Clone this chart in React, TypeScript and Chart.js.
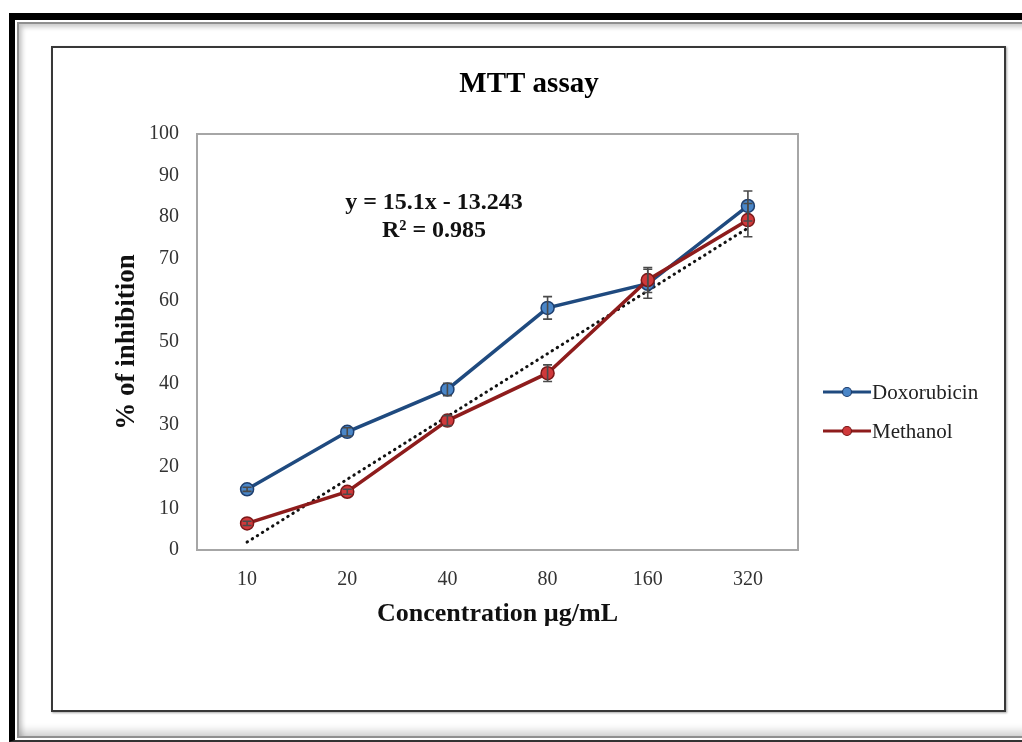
import React, { useEffect, useRef } from "react";
import { Chart, registerables } from "chart.js";

Chart.register(...registerables);

const categories = ["10", "20", "40", "80", "160", "320"];
const seriesNames = ["Doxorubicin", "Methanol"];
const doxorubicin = [14.6, 28.4, 38.6, 58.2, 64.0, 82.7];
const methanol = [6.4, 14.0, 31.1, 42.5, 64.9, 79.3];
const doxorubicinError = [0.5, 1.0, 1.5, 2.7, 3.5, 3.6];
const methanolError = [0.5, 0.6, 1.2, 2.0, 3.0, 4.0];
const trendline = [1.9, null, null, null, null, 77.4];
const titleText = "MTT assay";
const xTitle = "Concentration µg/mL";
const yTitle = "% of inhibition";
const equationLines = ["y = 15.1x - 13.243", "R² = 0.985"];

const SERIF = "'Liberation Serif', 'Times New Roman', serif";
const BLUE_LINE = "#1f4a7f";
const BLUE_FILL = "#4a86c8";
const BLUE_EDGE = "#1f3f6e";
const RED_LINE = "#8e1c1c";
const RED_FILL = "#d0393b";
const RED_EDGE = "#7a1818";

const decorPlugin = {
  id: "decor",
  beforeDatasetsDraw(chart: any) {
    const { ctx, chartArea } = chart;
    ctx.save();
    ctx.strokeStyle = "#a6a6a6";
    ctx.lineWidth = 2;
    ctx.strokeRect(chartArea.left, chartArea.top, chartArea.right - chartArea.left, chartArea.bottom - chartArea.top);
    ctx.restore();
  },
  afterDatasetsDraw(chart: any) {
    const { ctx } = chart;
    const xs = chart.scales.x;
    const ys = chart.scales.y;
    ctx.save();
    ctx.strokeStyle = "#4a4a4a";
    ctx.lineWidth = 1.6;
    const groups: [number[], number[]][] = [
      [doxorubicin, doxorubicinError],
      [methanol, methanolError],
    ];
    groups.forEach(([vals, errs]) => {
      vals.forEach((v, i) => {
        const px = xs.getPixelForValue(i);
        const top = ys.getPixelForValue(v + errs[i]);
        const bot = ys.getPixelForValue(v - errs[i]);
        ctx.beginPath();
        ctx.moveTo(px, top);
        ctx.lineTo(px, bot);
        ctx.moveTo(px - 4.5, top);
        ctx.lineTo(px + 4.5, top);
        ctx.moveTo(px - 4.5, bot);
        ctx.lineTo(px + 4.5, bot);
        ctx.stroke();
      });
    });
    ctx.restore();
  },
  afterDraw(chart: any) {
    const { ctx } = chart;
    ctx.save();
    // title
    ctx.fillStyle = "#000";
    ctx.textAlign = "center";
    ctx.textBaseline = "middle";
    ctx.font = `bold 29px ${SERIF}`;
    ctx.fillText(titleText, 529, 85);
    // equation
    ctx.font = `bold 24px ${SERIF}`;
    ctx.fillStyle = "#111";
    ctx.fillText(equationLines[0], 434, 203);
    ctx.fillText(equationLines[1], 434, 231);
    // legend
    const items = [
      { name: seriesNames[0], line: BLUE_LINE, fill: BLUE_FILL, edge: BLUE_EDGE, y: 392 },
      { name: seriesNames[1], line: RED_LINE, fill: RED_FILL, edge: RED_EDGE, y: 431 },
    ];
    items.forEach((it) => {
      ctx.strokeStyle = it.line;
      ctx.lineWidth = 3;
      ctx.beginPath();
      ctx.moveTo(823, it.y);
      ctx.lineTo(871, it.y);
      ctx.stroke();
      ctx.beginPath();
      ctx.arc(847, it.y, 4.5, 0, Math.PI * 2);
      ctx.fillStyle = it.fill;
      ctx.fill();
      ctx.lineWidth = 1.2;
      ctx.strokeStyle = it.edge;
      ctx.stroke();
      ctx.fillStyle = "#222";
      ctx.textAlign = "left";
      ctx.font = `21px ${SERIF}`;
      ctx.fillText(it.name, 872, it.y + 1);
    });
    ctx.restore();
  },
};

export default function App() {
  const ref = useRef<HTMLCanvasElement | null>(null);

  useEffect(() => {
    if (!ref.current) return;
    const chart = new Chart(ref.current, {
      type: "line",
      data: {
        labels: categories,
        datasets: [
          {
            label: seriesNames[1],
            data: methanol,
            borderColor: RED_LINE,
            borderWidth: 3.5,
            pointRadius: 6.5,
            pointBackgroundColor: RED_FILL,
            pointBorderColor: RED_EDGE,
            pointBorderWidth: 1.5,
            tension: 0,
            order: 0,
          },
          {
            label: seriesNames[0],
            data: doxorubicin,
            borderColor: BLUE_LINE,
            borderWidth: 3.5,
            pointRadius: 6.5,
            pointBackgroundColor: BLUE_FILL,
            pointBorderColor: BLUE_EDGE,
            pointBorderWidth: 1.5,
            tension: 0,
            order: 1,
          },
          {
            label: "Linear",
            data: trendline as any,
            borderColor: "#111",
            borderWidth: 3,
            borderDash: [0.5, 5.5],
            borderCapStyle: "round",
            pointRadius: 0,
            spanGaps: true,
            order: 2,
          },
        ],
      },
      options: {
        responsive: false,
        animation: false,
        events: [],
        layout: { padding: { left: 100, right: 224, top: 134, bottom: 100 } },
        plugins: {
          legend: { display: false },
          tooltip: { enabled: false },
          title: { display: false },
        },
        scales: {
          x: {
            type: "category",
            offset: true,
            grid: { display: false, drawTicks: false },
            border: { display: false },
            ticks: {
              color: "#333",
              padding: 18,
              font: { family: SERIF, size: 20 },
            },
            title: {
              display: true,
              text: xTitle,
              color: "#111",
              font: { family: SERIF, size: 26, weight: "bold" },
              padding: { top: 0, bottom: 12 },
            },
            afterFit: (s: any) => {
              s.height = 92;
            },
          },
          y: {
            min: 0,
            max: 100,
            grid: { display: false, drawTicks: false },
            border: { display: false },
            ticks: {
              stepSize: 10,
              color: "#333",
              padding: 18,
              font: { family: SERIF, size: 20 },
            },
            title: {
              display: true,
              text: yTitle,
              color: "#111",
              font: { family: SERIF, size: 27, weight: "bold" },
              padding: { top: 11, bottom: 0 },
            },
            afterFit: (s: any) => {
              s.width = 97;
            },
          },
        },
      },
      plugins: [decorPlugin],
    });
    return () => chart.destroy();
  }, []);

  return (
    <div
      style={{
        position: "fixed",
        left: 0,
        top: 0,
        width: 1022,
        height: 742,
        background: "#fff",
        overflow: "hidden",
      }}
    >
      <div
        style={{
          position: "absolute",
          left: 9,
          top: 13,
          width: 1060,
          height: 729,
          borderTop: "7px solid #000",
          borderLeft: "6px solid #000",
          borderBottom: "2px solid #333",
          boxSizing: "border-box",
        }}
      />
      <div
        style={{
          position: "absolute",
          left: 17,
          top: 22,
          width: 1060,
          height: 716,
          border: "2px solid #8f8f8f",
          boxShadow: "inset 3px 3px 5px rgba(0,0,0,0.22), inset 0 -9px 8px -4px rgba(0,0,0,0.18)",
          boxSizing: "border-box",
        }}
      />
      <div
        style={{
          position: "absolute",
          left: 51,
          top: 46,
          width: 955,
          height: 666,
          border: "2px solid #383838",
          boxShadow: "1px 1px 2px rgba(0,0,0,0.35)",
          background: "#fff",
          boxSizing: "border-box",
        }}
      />
      <canvas
        ref={ref}
        width={1022}
        height={742}
        style={{ position: "absolute", left: 0, top: 0, width: 1022, height: 742 }}
      />
    </div>
  );
}
